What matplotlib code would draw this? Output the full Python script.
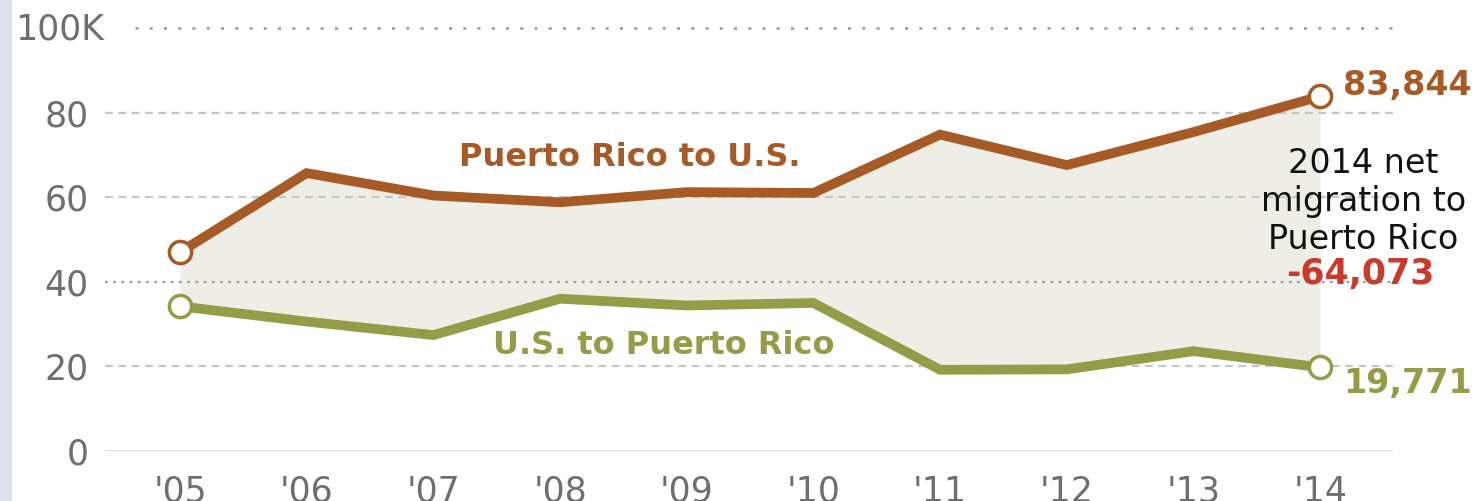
import matplotlib.pyplot as plt
from matplotlib.patches import Rectangle

years = ["'05", "'06", "'07", "'08", "'09", "'10", "'11", "'12", "'13", "'14"]
pr_to_us = [47.0, 65.7, 60.4, 58.8, 61.2, 61.0, 74.8, 67.6, 75.4, 83.844]
us_to_pr = [34.2, 30.6, 27.4, 36.0, 34.4, 35.0, 19.2, 19.3, 23.6, 19.771]
y_ticks = [0, 20, 40, 60, 80]

BROWN = "#a65b27"
GREEN = "#959c48"
RED = "#c83a2c"
GRAY = "#6e6e70"
FILL = "#efeee6"

W, H = 1484, 501
fig = plt.figure(figsize=(W / 100, H / 100), dpi=100)
fig.patch.set_facecolor("white")
fig.patches.append(Rectangle((0, 0), 11 / W, 1, transform=fig.transFigure,
                             color="#dfe2ea", zorder=0))

# axes box: x 105..1393 px, y 0 at 451 px, 100 at 28 px
ax = fig.add_axes([105 / W, (H - 451) / H, (1393 - 105) / W, (451 - 28) / H])
x = list(range(len(years)))
ax.set_xlim(-0.592, 9.575)
ax.set_ylim(0, 100)
for s in ax.spines.values():
    s.set_visible(False)

ax.fill_between(x, us_to_pr, pr_to_us, color=FILL, lw=0, zorder=1)

# gridlines
for v in y_ticks[1:]:
    if v == 40:
        ax.axhline(v, color="#9a9a9a", lw=1.6, ls=(0, (1.2, 2.5)), zorder=2)
    else:
        ax.axhline(v, color="#c6c6c6", lw=1.6, ls=(0, (3.5, 2.5)), zorder=2)
ax.axhline(0, color="#dadada", lw=2, zorder=2)
ax.plot([-0.355, 9.575], [100, 100], color="#9a9a9a", lw=1.8,
        ls=(0, (1.2, 4.5)), zorder=2, clip_on=False)

ax.plot(x, pr_to_us, color=BROWN, lw=7, solid_joinstyle="miter", zorder=3)
ax.plot(x, us_to_pr, color=GREEN, lw=7, solid_joinstyle="miter", zorder=3)
for series, c in ((pr_to_us, BROWN), (us_to_pr, GREEN)):
    ax.plot([x[0], x[-1]], [series[0], series[-1]], ls="none", marker="o",
            ms=16, mfc="white", mec=c, mew=2.5, zorder=4, clip_on=False)

ax.set_yticks(y_ticks)
ax.set_yticklabels([str(v) for v in y_ticks])
ax.set_xticks(x)
ax.set_xticklabels(years)
ax.tick_params(axis="y", length=0, pad=12, labelsize=25, labelcolor=GRAY)
ax.tick_params(axis="x", length=0, pad=17, labelsize=25, labelcolor=GRAY)
fig.text(15 / W, (H - 29) / H, "100K", fontsize=25, color=GRAY,
         ha="left", va="center")

ax.text(3.55, 69.5, "Puerto Rico to U.S.", color=BROWN, fontsize=23,
        fontweight="bold", ha="center", va="center")
ax.text(3.82, 25.0, "U.S. to Puerto Rico", color=GREEN, fontsize=23,
        fontweight="bold", ha="center", va="center")

ax.text(9.18, 86.5, "83,844", color=BROWN, fontsize=24,
        fontweight="bold", ha="left", va="center", clip_on=False)
ax.text(9.18, 16.0, "19,771", color=GREEN, fontsize=24,
        fontweight="bold", ha="left", va="center", clip_on=False)
ax.text(9.34, 59.0, "2014 net\nmigration to\nPuerto Rico", color="#111111",
        fontsize=24, ha="center", va="center", linespacing=1.2, clip_on=False)
ax.text(9.32, 41.8, "-64,073", color=RED, fontsize=25, fontweight="bold",
        ha="center", va="center", clip_on=False)

fig.savefig("out.png", dpi=100)
